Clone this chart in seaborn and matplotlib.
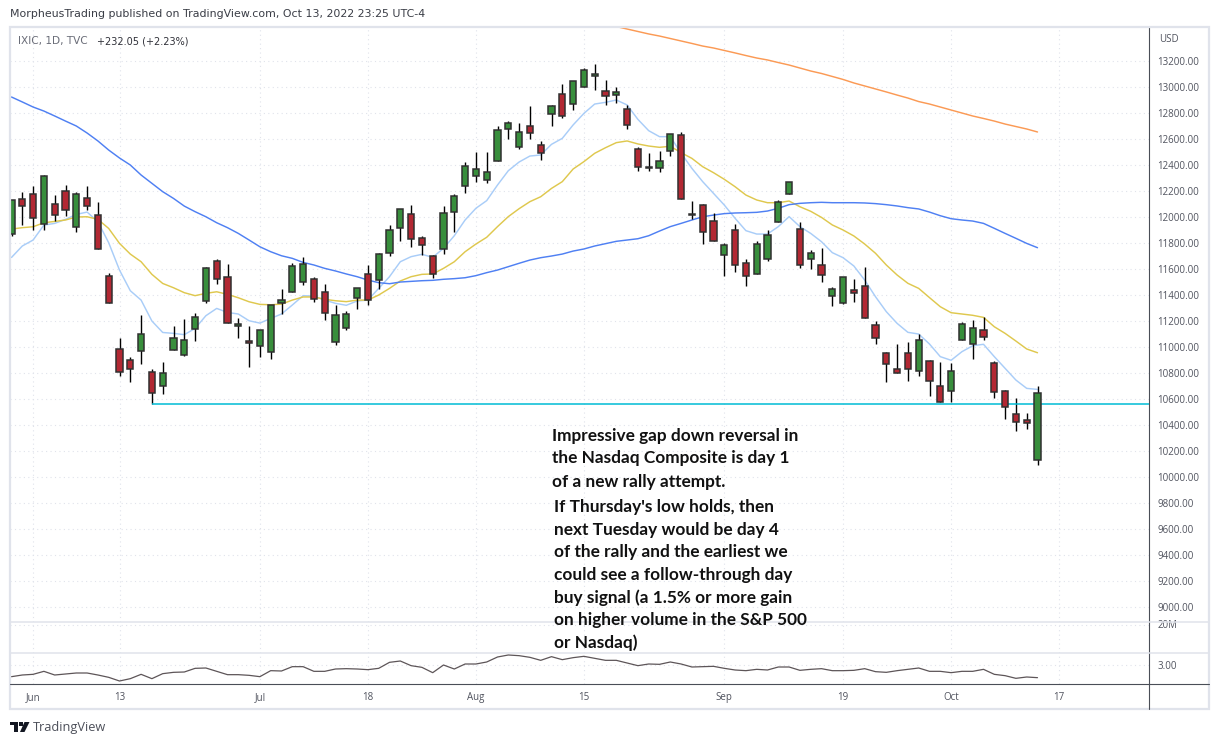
import matplotlib
matplotlib.use("Agg")
import matplotlib.pyplot as plt
from matplotlib.lines import Line2D
from matplotlib.patches import Rectangle, Polygon
import numpy as np
import pandas as pd
import seaborn as sns

# daily candles, May 27 to Oct 13 2022
opens = [11866, 12136, 12174, 11943, 12097, 12197, 11920, 12143, 12012, 11543, 10982, 10897,
         10966, 10805, 10697, 10974, 10936, 11136, 11351, 11659, 11536, 11159, 11043, 11005,
         10959, 11336, 11420, 11497, 11520, 11421, 11039, 11149, 11374, 11559, 11513, 11721,
         11913, 12020, 11836, 11697, 11751, 12036, 12236, 12313, 12282, 12428, 12674, 12536,
         12697, 12551, 12790, 12944, 12867, 12997, 13082, 12967, 12936, 12828, 12520, 12382,
         12374, 12505, 12628, 12020, 12090, 11967, 11705, 11897, 11644, 11559, 11674, 11959,
         12174, 11905, 11674, 11628, 11395, 11336, 11436, 11467, 11167, 10951, 10828, 10951,
         10813, 10890, 10697, 10659, 11051, 11021, 11128, 10874, 10659, 10482, 10436, 10128]
closes = [12128, 12082, 11989, 12312, 12012, 12056, 12174, 12082, 11751, 11336, 10805, 10828,
          11097, 10643, 10797, 11066, 11051, 11228, 11605, 11520, 11182, 11174, 11028, 11128,
          11320, 11359, 11620, 11636, 11367, 11259, 11244, 11251, 11451, 11359, 11713, 11897,
          12059, 11828, 11782, 11559, 12028, 12159, 12390, 12367, 12344, 12667, 12720, 12651,
          12644, 12490, 12851, 12774, 13044, 13128, 13097, 12933, 12959, 12705, 12382, 12374,
          12428, 12636, 12136, 12012, 11882, 11813, 11782, 11628, 11544, 11790, 11859, 12113,
          12267, 11628, 11720, 11551, 11444, 11536, 11418, 11221, 11067, 10867, 10797, 10828,
          11051, 10736, 10574, 10813, 11174, 11144, 11074, 10651, 10536, 10421, 10413, 10644]
highs = [12130, 12192, 12238, 12323, 12169, 12246, 12192, 12238, 12115, 11569, 11069, 10923,
         11246, 10828, 10884, 11161, 11215, 11259, 11612, 11674, 11636, 11220, 11161, 11128,
         11320, 11443, 11643, 11690, 11536, 11482, 11321, 11274, 11451, 11631, 11721, 11936,
         12059, 12092, 11851, 11705, 12085, 12174, 12420, 12500, 12500, 12700, 12736, 12720,
         12854, 12582, 12859, 13023, 13044, 13144, 13177, 13054, 13000, 12859, 12536, 12492,
         12508, 12636, 12654, 12123, 12100, 12028, 11797, 11946, 11674, 11813, 11897, 12131,
         12267, 11961, 11746, 11759, 11459, 11536, 11523, 11613, 11200, 10959, 11023, 11036,
         11097, 10897, 10885, 10877, 11190, 11205, 11228, 10890, 10667, 10605, 10490, 10698]
lows = [11856, 11938, 11900, 11900, 11966, 12007, 11884, 12053, 11751, 11336, 10777, 10731,
        10869, 10559, 10638, 10974, 10933, 11048, 11341, 11484, 11182, 11071, 10848, 10925,
        10908, 11256, 11420, 11480, 11349, 11208, 11015, 11131, 11295, 11326, 11449, 11703,
        11818, 11772, 11710, 11533, 11718, 11887, 12187, 12272, 12264, 12428, 12603, 12526,
        12603, 12441, 12703, 12764, 12823, 12997, 12977, 12861, 12877, 12677, 12356, 12356,
        12349, 12469, 12136, 11985, 11795, 11813, 11549, 11580, 11472, 11559, 11664, 11959,
        12174, 11610, 11603, 11503, 11318, 11333, 11349, 11221, 11026, 10733, 10797, 10741,
        10780, 10626, 10574, 10580, 11051, 10910, 11056, 10610, 10449, 10357, 10372, 10095]

# moving averages
ma_fast = [11689, 11777, 11823, 11938, 11951, 11982, 12020, 12038, 11964, 11802, 11592, 11433,
           11361, 11200, 11112, 11105, 11095, 11143, 11241, 11297, 11266, 11254, 11202, 11184,
           11220, 11254, 11323, 11395, 11392, 11361, 11336, 11321, 11354, 11361, 11451, 11541,
           11656, 11695, 11713, 11690, 11759, 11856, 11977, 12067, 12126, 12246, 12356, 12423,
           12469, 12477, 12559, 12605, 12708, 12797, 12869, 12882, 12900, 12862, 12751, 12664,
           12618, 12618, 12490, 12374, 12272, 12182, 12092, 11990, 11895, 11869, 11869, 11926,
           12003, 11926, 11874, 11810, 11726, 11687, 11623, 11515, 11387, 11272, 11182, 11113,
           11100, 11023, 10926, 10898, 10964, 11010, 11021, 10926, 10836, 10746, 10682, 10674]
ma_mid = [11907, 11918, 11925, 11956, 11966, 11977, 12000, 12002, 11982, 11912, 11797, 11715,
          11656, 11559, 11489, 11456, 11418, 11395, 11413, 11425, 11405, 11379, 11348, 11328,
          11325, 11330, 11361, 11385, 11385, 11367, 11356, 11349, 11361, 11361, 11400, 11451,
          11508, 11541, 11559, 11562, 11605, 11656, 11733, 11792, 11844, 11926, 12003, 12064,
          12118, 12156, 12220, 12272, 12369, 12426, 12490, 12533, 12572, 12585, 12562, 12546,
          12536, 12544, 12495, 12451, 12387, 12341, 12290, 12233, 12169, 12131, 12110, 12110,
          12123, 12079, 12044, 11997, 11939, 11900, 11854, 11792, 11721, 11631, 11554, 11490,
          11451, 11380, 11310, 11264, 11254, 11244, 11228, 11156, 11105, 11046, 10985, 10956]
ma_slow = [12923, 12885, 12846, 12815, 12777, 12738, 12700, 12646, 12585, 12515, 12454, 12400,
           12323, 12259, 12195, 12143, 12084, 12041, 12002, 11956, 11918, 11874, 11823, 11771,
           11733, 11702, 11682, 11651, 11631, 11605, 11585, 11562, 11541, 11515, 11495, 11487,
           11500, 11505, 11510, 11513, 11521, 11526, 11533, 11549, 11572, 11592, 11618, 11644,
           11669, 11687, 11700, 11715, 11738, 11754, 11777, 11795, 11813, 11823, 11833, 11856,
           11892, 11926, 11951, 11977, 12002, 12015, 12026, 12031, 12033, 12036, 12046, 12067,
           12095, 12105, 12110, 12113, 12110, 12110, 12110, 12108, 12103, 12095, 12085, 12072,
           12062, 12038, 12010, 11987, 11977, 11969, 11951, 11913, 11874, 11836, 11797, 11764]
# the long average only shows up inside the window from bar 56 on
ma_long_start = 56
ma_long = [13465, 13446, 13427, 13408, 13392, 13373, 13354, 13335, 13315, 13300, 13281, 13262,
           13242, 13223, 13208, 13188, 13169, 13146, 13123, 13104, 13081, 13058, 13031, 13008,
           12985, 12962, 12938, 12915, 12888, 12869, 12846, 12823, 12800, 12777, 12758, 12738,
           12715, 12696, 12677, 12654]

# lower pane line
ratio = [2.28, 2.38, 2.42, 2.60, 2.38, 2.44, 2.50, 2.50, 2.38, 2.24, 2.02, 2.16, 2.42, 2.16,
         2.46, 2.54, 2.56, 2.78, 2.80, 2.60, 2.40, 2.40, 2.36, 2.28, 2.64, 2.62, 2.88, 2.88,
         2.60, 2.60, 2.74, 2.76, 2.74, 2.70, 2.78, 3.14, 3.22, 2.94, 2.84, 2.52, 2.98, 2.74,
         3.04, 3.04, 3.16, 3.46, 3.58, 3.54, 3.44, 3.26, 3.48, 3.30, 3.42, 3.50, 3.38, 3.26,
         3.26, 3.10, 2.94, 3.04, 3.02, 3.16, 3.04, 2.86, 2.88, 2.90, 2.78, 2.68, 2.64, 2.72,
         2.68, 2.86, 2.86, 2.66, 2.72, 2.76, 2.64, 2.64, 2.66, 2.76, 2.58, 2.54, 2.64, 2.72,
         2.80, 2.60, 2.60, 2.52, 2.60, 2.60, 2.72, 2.42, 2.34, 2.18, 2.26, 2.22]

# support line starts at the June low
support_level = 10558
support_start = 13

price_ticks = list(range(9000, 13400, 200))
date_ticks = [2, 10, 23, 33, 43, 53, 66, 77, 87, 97]
date_labels = ["Jun", "13", "Jul", "18", "Aug", "15", "Sep", "19", "Oct", "17"]

note_lines = ["Impressive gap down reversal in", "the Nasdaq Composite is day 1", "of a new rally attempt.",
              "If Thursday's low holds, then", "next Tuesday would be day 4", "of the rally and the earliest we",
              "could see a follow-through day", "buy signal (a 1.5% or more gain",
              "on higher volume in the S&P 500", "or Nasdaq)"]
note_x = [552, 552, 552, 554, 554, 554, 554, 554, 554, 554]
note_base = [441, 463, 487, 512, 535, 557, 580, 603, 625, 648]

W, H = 1219, 745
BORDER = "#e0e3eb"
AXIS = "#4a4e57"
TEXT = "#50535e"
GREEN = "#388e3c"
RED = "#b22833"
AXIS_FONT = "Open Sans"

sns.set_theme(style="white", rc={"font.family": "DejaVu Sans"})


def pane(top, bottom):
    return fig.add_axes([10 / W, 1 - bottom / H, 1139 / W, (bottom - top) / H])


def fig_text(x, y, s, **kw):
    # x, y in image pixels
    kw.setdefault("va", "center")
    fig.text(x / W, 1 - y / H, s, **kw)


fig = plt.figure(figsize=(W / 100, H / 100), dpi=100, facecolor="white")
ax = pane(27, 622)
ax2 = pane(622, 653)
ax3 = pane(653, 684)

days = np.arange(len(opens))
df = pd.DataFrame({"day": days, "open": opens, "close": closes, "high": highs, "low": lows,
                   "ma_fast": ma_fast, "ma_mid": ma_mid, "ma_slow": ma_slow, "ratio": ratio})
df["up"] = df["close"] >= df["open"]
long_df = pd.DataFrame({"day": np.arange(ma_long_start, ma_long_start + len(ma_long)), "ma_long": ma_long})

# the moving averages sit behind the candles
sns.lineplot(data=df, x="day", y="ma_fast", ax=ax, color="#a9cdf8", lw=1.05, zorder=2)
sns.lineplot(data=df, x="day", y="ma_mid", ax=ax, color="#dfc84e", lw=1.05, zorder=2)
sns.lineplot(data=df, x="day", y="ma_slow", ax=ax, color="#4f80f3", lw=1.05, zorder=2)
sns.lineplot(data=long_df, x="day", y="ma_long", ax=ax, color="#fb9a55", lw=1.05, zorder=2)

# candles
ax.vlines(df["day"], df["low"], df["high"], color="black", lw=1.0, zorder=3)
body_low = df[["open", "close"]].min(axis=1)
body_h = (df["close"] - df["open"]).abs()
ax.bar(df["day"], body_h, bottom=body_low, width=0.56, color=[GREEN if u else RED for u in df["up"]],
       edgecolor="#303030", linewidth=1.1, zorder=4)

ax.hlines(support_level, support_start, 200, color="#00bcd4", lw=1.1, zorder=3)

sns.lineplot(data=df, x="day", y="ratio", ax=ax3, color="#5d5558", lw=0.9)

xlim = ((10 - 11.5) / 10.8, (1149 - 11.5) / 10.8)
for a in (ax, ax2, ax3):
    a.set_xlim(*xlim)
    a.set_xlabel("")
    a.set_ylabel("")
    a.set_xticks(date_ticks)
    a.yaxis.tick_right()
    a.grid(True, color=BORDER, ls=(0, (1, 3)), lw=0.8)
    a.set_axisbelow(True)
    for s in a.spines.values():
        s.set_visible(False)
    a.spines["right"].set_visible(True)
    a.spines["right"].set_color(AXIS)
    a.spines["right"].set_linewidth(0.8)
    a.tick_params(axis="x", length=0, labelbottom=False)
    a.tick_params(axis="y", length=0, pad=6, labelsize=7.0, labelcolor=TEXT)
    for lab in a.get_yticklabels():
        lab.set_family(AXIS_FONT)

ax.set_ylim(8885, 13461.5)
ax.set_yticks(price_ticks)
ax.set_yticklabels([f"{p:.2f}" for p in price_ticks], family=AXIS_FONT)

ax2.set_ylim(0, 31)
ax2.set_yticks([28.5])
ax2.set_yticklabels(["20M"], family=AXIS_FONT)

ax3.set_ylim(1.84, 3.70)
ax3.set_yticks([3.0])
ax3.set_yticklabels(["3.00"], family=AXIS_FONT)
ax3.tick_params(axis="x", labelbottom=True, labelsize=7.0, labelcolor=TEXT, pad=6)
ax3.set_xticklabels(date_labels, family=AXIS_FONT)

# frame and pane separators
fig.add_artist(Rectangle((10 / W, 1 - 709 / H), 1199 / W, 682 / H, transform=fig.transFigure,
                         fill=False, edgecolor=BORDER, lw=1.6))
for yy in (622, 653):
    fig.add_artist(Line2D([10 / W, 1209 / W], [1 - yy / H] * 2, color=BORDER, lw=1.1))
fig.add_artist(Line2D([10 / W, 1209 / W], [1 - 684 / H] * 2, color=AXIS, lw=0.8))
fig.add_artist(Line2D([1149 / W, 1149 / W], [1 - 684 / H, 1 - 709 / H], color=AXIS, lw=0.8))

# header text
fig_text(10, 14, "MorpheusTrading published on TradingView.com, Oct 13, 2022 23:25 UTC-4",
         fontsize=7.9, color="#3a3d46")
fig_text(18, 41, "IXIC, 1D, TVC", fontsize=7.6, color="#6a6d78")
fig_text(97, 41, "+232.05 (+2.23%)", fontsize=7.0, color="#2f3038")
fig_text(1159, 40, "USD", fontsize=7.0, color=TEXT, family=AXIS_FONT)

# footer logo and name
fig.add_artist(Rectangle((10 / W, 1 - 725 / H), 7.5 / W, 3 / H, transform=fig.transFigure, color="#131722", lw=0))
fig.add_artist(Rectangle((14 / W, 1 - 732 / H), 3.5 / W, 10 / H, transform=fig.transFigure, color="#131722", lw=0))
fig.add_artist(Polygon([(24.5 / W, 1 - 722 / H), (29.5 / W, 1 - 722 / H), (24.5 / W, 1 - 732 / H), (20 / W, 1 - 732 / H)],
                       transform=fig.transFigure, color="#131722", lw=0))
fig.add_artist(Rectangle((19 / W, 1 - 725.5 / H), 3.5 / W, 3.5 / H, transform=fig.transFigure, color="#131722", lw=0))
fig_text(33, 727, "TradingView", fontsize=9.2, color="#4c4f59", family="Open Sans")

# the annotation block
for s, x, y in zip(note_lines, note_x, note_base):
    fig_text(x, y, s, fontsize=12.4, fontweight="bold", color="#111111", family="Lato", zorder=10, va="baseline")

fig.savefig("out.png", dpi=100)
